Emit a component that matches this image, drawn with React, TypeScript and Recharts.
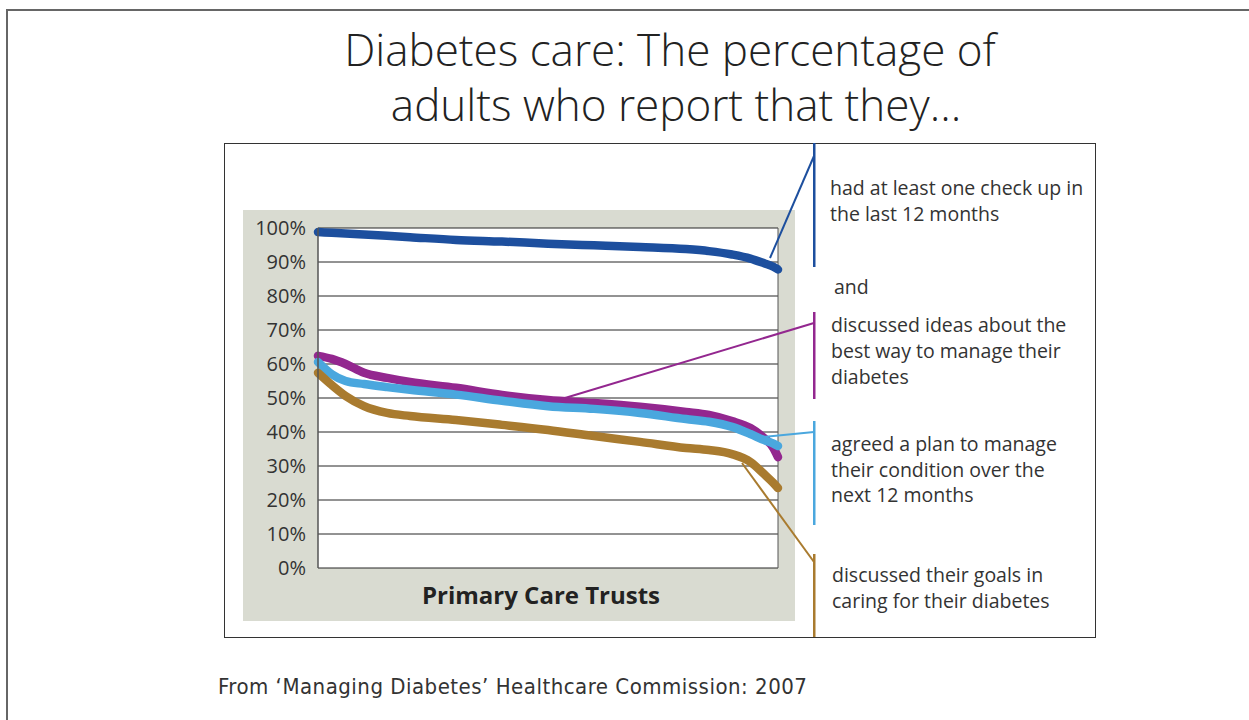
import { LineChart, Line, XAxis, YAxis, CartesianGrid, ReferenceLine } from 'recharts';

// position of each trust along the ranked x axis (0 = best, 100 = worst)
const ranks = [0, 3, 6, 10, 15, 20, 30, 40, 50, 60, 70, 80, 85, 90, 94, 97, 99, 100];

const checkUp = [98.8, 98.6, 98.4, 98.1, 97.7, 97.3, 96.5, 96.0, 95.4, 94.9, 94.4, 93.8, 93.2, 92.2, 91.0, 89.6, 88.6, 87.8];
const discussedIdeas = [62.4, 61.5, 60, 57.4, 55.9, 54.7, 53, 50.9, 49.4, 48.5, 47.4, 45.9, 45, 43.2, 41.2, 38.2, 35.3, 32.6];
const agreedPlan = [60.6, 57, 55, 54.1, 53.2, 52.4, 51, 49.2, 47.6, 46.8, 45.6, 43.8, 43, 41.5, 39.4, 37.6, 36.6, 35.9];
const discussedGoals = [57.4, 53.8, 50.6, 47.6, 45.6, 44.7, 43.5, 42.1, 40.6, 38.8, 37.1, 35.3, 34.7, 33.5, 31.2, 27.6, 25, 23.5];

const yTicks = [0, 10, 20, 30, 40, 50, 60, 70, 80, 90, 100];

const data = ranks.map((rank, i) => ({
  rank,
  checkUp: checkUp[i],
  discussedIdeas: discussedIdeas[i],
  agreedPlan: agreedPlan[i],
  discussedGoals: discussedGoals[i],
}));

const BLUE = '#1d4f9e';
const PURPLE = '#93278f';
const LIGHT_BLUE = '#4aa7de';
const BROWN = '#a97b2f';
const TEXT = '#333333';
const FONT = "'Open Sans', 'Noto Sans', sans-serif";

export default function App() {
  return (
    <div
      style={{
        position: 'absolute',
        left: 0,
        top: 0,
        width: 1249,
        height: 720,
        overflow: 'hidden',
        background: '#fff',
        fontFamily: FONT,
      }}
    >
      {/* grey panel behind the chart */}
      <div
        style={{ position: 'absolute', left: 243, top: 210, width: 552, height: 411, background: '#d9dbd1' }}
      />
      <div style={{ position: 'absolute', left: 243, top: 210 }}>
        <LineChart width={552} height={411} data={data} margin={{ top: 18, right: 17, left: 0, bottom: 53 }}>
          <CartesianGrid vertical={false} stroke='#262626' strokeWidth={1} fill='#ffffff' fillOpacity={1} />
          <XAxis dataKey='rank' type='number' domain={[0, 100]} hide />
          <YAxis
            type='number'
            domain={[0, 100]}
            ticks={yTicks}
            width={75}
            tickFormatter={(v) => `${v}%`}
            tickLine={false}
            tickSize={0}
            tickMargin={12}
            axisLine={{ stroke: '#555', strokeWidth: 1.5 }}
            tick={{ fontSize: 20, fill: TEXT, fontFamily: FONT }}
          />
          <ReferenceLine x={100} stroke='#555' strokeWidth={1} />
          <Line
            type='monotone'
            dataKey='checkUp'
            stroke={BLUE}
            strokeWidth={8.5}
            strokeLinecap='round'
            dot={false}
            isAnimationActive={false}
          />
          <Line
            type='monotone'
            dataKey='discussedIdeas'
            stroke={PURPLE}
            strokeWidth={8.5}
            strokeLinecap='round'
            dot={false}
            isAnimationActive={false}
          />
          <Line
            type='monotone'
            dataKey='agreedPlan'
            stroke={LIGHT_BLUE}
            strokeWidth={8.5}
            strokeLinecap='round'
            dot={false}
            isAnimationActive={false}
          />
          <Line
            type='monotone'
            dataKey='discussedGoals'
            stroke={BROWN}
            strokeWidth={8.5}
            strokeLinecap='round'
            dot={false}
            isAnimationActive={false}
          />
        </LineChart>
      </div>

      {/* frames, titles and annotations */}
      <svg
        width={1249}
        height={720}
        style={{ position: 'absolute', left: 0, top: 0, pointerEvents: 'none' }}
        fontFamily={FONT}
      >
        <rect x={7} y={10} width={1300} height={800} fill='none' stroke='#666' strokeWidth={2} />
        <rect x={224.5} y={143.5} width={871} height={494} fill='none' stroke='#333' strokeWidth={1} />

        <text x={670} y={66} textAnchor='middle' fontSize={44} fontWeight={300} fill='#222'>
          Diabetes care: The percentage of
        </text>
        <text x={676} y={121} textAnchor='middle' fontSize={44} fontWeight={300} fill='#222'>
          adults who report that they…
        </text>

        <text x={541} y={604} textAnchor='middle' fontSize={24} fontWeight={700} fill='#222'>
          Primary Care Trusts
        </text>

        {/* leader lines */}
        <line x1={770} y1={258} x2={814} y2={156} stroke={BLUE} strokeWidth={2} />
        <line x1={555} y1={401} x2={814} y2={323} stroke={PURPLE} strokeWidth={2} />
        <line x1={763} y1={437} x2={814} y2={432} stroke={LIGHT_BLUE} strokeWidth={2} />
        <line x1={742} y1={463} x2={814} y2={562} stroke={BROWN} strokeWidth={2} />

        {/* annotation bars */}
        <rect x={813} y={143} width={2.5} height={124} fill={BLUE} />
        <rect x={813} y={312} width={2.5} height={87} fill={PURPLE} />
        <rect x={813} y={421} width={2.5} height={104} fill={LIGHT_BLUE} />
        <rect x={813} y={554} width={2.5} height={83} fill={BROWN} />

        <g fontSize={19.5} fill={TEXT}>
          <text x={830} y={195}>had at least one check up in</text>
          <text x={830} y={221}>the last 12 months</text>
          <text x={834} y={294}>and</text>
          <text x={831} y={332}>discussed ideas about the</text>
          <text x={831} y={358}>best way to manage their</text>
          <text x={831} y={384}>diabetes</text>
          <text x={831} y={451}>agreed a plan to manage</text>
          <text x={831} y={477}>their condition over the</text>
          <text x={831} y={502}>next 12 months</text>
          <text x={832} y={582}>discussed their goals in</text>
          <text x={832} y={608}>caring for their diabetes</text>
        </g>

        <text
          x={218}
          y={694}
          fontSize={22}
          fill={TEXT}
          letterSpacing={0.5}
          fontFamily="'Liberation Sans Narrow', 'DejaVu Sans Condensed', sans-serif"
        >
          From ‘Managing Diabetes’ Healthcare Commission: 2007
        </text>
      </svg>
    </div>
  );
}
